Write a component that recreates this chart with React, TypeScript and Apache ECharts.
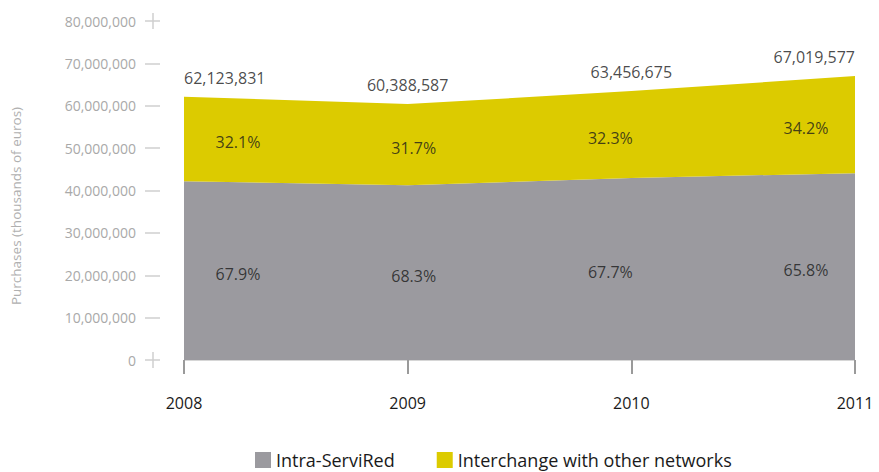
import React, { useEffect, useRef } from "react";
import * as echarts from "echarts";

// Purchases by network (thousands of euros)
const years = ["2008", "2009", "2010", "2011"];
const totals = [62123831, 60388587, 63456675, 67019577];
const intraPct = [67.9, 68.3, 67.7, 65.8];
const interPct = [32.1, 31.7, 32.3, 34.2];
const seriesNames = ["Intra-ServiRed", "Interchange with other networks"];

// label placement tweaks per year
const totalAlign = ["left", "center", "center", "right"];
const pctOffsetX = [54, 6, -21, -49];

const GRAY = "#9b9a9f";
const YELLOW = "#dccb00";
const FONT = "'Open Sans', sans-serif";

const fmt = (v: number) => v.toLocaleString("en-US");

export default function App() {
  const ref = useRef<HTMLDivElement>(null);

  useEffect(() => {
    document.body.style.margin = "0";
    if (!ref.current) return;
    const chart = echarts.init(ref.current, undefined, { renderer: "svg" });

    const intra = totals.map((t, i) => (t * intraPct[i]) / 100);
    const inter = totals.map((t, i) => t - intra[i]);
    const intraMid = intra.map((v) => v / 2);
    const interMid = intra.map((v, i) => v + inter[i] / 2);

    const pctSeries = (name: string, pcts: number[], mids: number[]) => ({
      name,
      type: "scatter",
      symbolSize: 0,
      silent: true,
      z: 10,
      data: years.map((_, i) => ({
        value: [i, mids[i]],
        label: {
          show: true,
          position: "top",
          distance: 0,
          offset: [pctOffsetX[i], 11],
          formatter: () => pcts[i].toFixed(1) + "%",
        },
      })),
      label: { color: "#1a1a1a", fontSize: 16, fontFamily: FONT },
    });

    chart.setOption({
      animation: false,
      textStyle: { fontFamily: FONT },
      grid: { left: 184, right: 24, top: 21, bottom: 112, containLabel: false },
      legend: {
        data: seriesNames,
        left: 255,
        top: 450,
        padding: 0,
        icon: "rect",
        itemWidth: 16,
        itemHeight: 16,
        itemGap: 42,
        textStyle: { fontSize: 18, lineHeight: 20, color: "#1a1a1a", fontFamily: FONT },
      },
      xAxis: [
        {
          type: "category",
          data: years,
          boundaryGap: false,
          offset: 13,
          axisLine: { show: false },
          axisTick: { show: true, length: 14, lineStyle: { color: "#9a9a9a", width: 2 } },
          axisLabel: { color: "#1a1a1a", fontSize: 16, margin: 22, fontFamily: FONT },
        },
        {
          type: "category",
          data: years,
          boundaryGap: false,
          position: "bottom",
          offset: 0,
          axisLine: { show: true, lineStyle: { color: "#d6d6d6", width: 1 } },
          axisTick: { show: false },
          axisLabel: { show: false },
        },
      ],
      yAxis: {
        type: "value",
        min: 0,
        max: 80000000,
        interval: 10000000,
        offset: 24,
        axisLine: { show: false },
        axisTick: { show: true, length: 15, lineStyle: { color: "#cfcfcf", width: 1.5 } },
        axisLabel: { color: "#a9a9a9", fontSize: 14, margin: 24, formatter: fmt, fontFamily: FONT },
        splitLine: { show: false },
      },
      series: [
        {
          name: seriesNames[0],
          type: "line",
          stack: "total",
          data: intra,
          symbol: "none",
          z: 1,
          lineStyle: { width: 0 },
          itemStyle: { color: GRAY },
          areaStyle: { color: GRAY, opacity: 1 },
        },
        {
          name: seriesNames[1],
          type: "line",
          stack: "total",
          data: inter,
          symbol: "none",
          z: 1,
          lineStyle: { width: 0 },
          itemStyle: { color: YELLOW },
          areaStyle: { color: YELLOW, opacity: 1 },
        },
        pctSeries("pctIntra", intraPct, intraMid),
        pctSeries("pctInter", interPct, interMid),
        {
          name: "totals",
          type: "scatter",
          symbolSize: 0,
          silent: true,
          z: 10,
          data: totals.map((t, i) => ({
            value: [i, t],
            label: {
              show: true,
              position: "top",
              distance: 11,
              align: totalAlign[i],
              formatter: fmt(t),
            },
          })),
          label: { color: "#1a1a1a", fontSize: 16, fontFamily: FONT },
        },
      ],
    });

    // axis title and the cross marks at both ends of the value axis
    const y0 = chart.convertToPixel({ yAxisIndex: 0 }, 0) as number;
    const yMax = chart.convertToPixel({ yAxisIndex: 0 }, 80000000) as number;
    const crossX = 153;
    chart.setOption({
      graphic: [
        {
          type: "text",
          x: 16,
          y: 206,
          rotation: Math.PI / 2,
          style: {
            text: "Purchases (thousands of euros)",
            fill: "#b0b0b0",
            fontSize: 13.5,
            fontFamily: FONT,
            align: "center",
            verticalAlign: "middle",
          },
        },
        {
          type: "line",
          shape: { x1: crossX, y1: y0 - 8, x2: crossX, y2: y0 + 8 },
          style: { stroke: "#cfcfcf", lineWidth: 1.5 },
        },
        {
          type: "line",
          shape: { x1: crossX, y1: yMax - 8, x2: crossX, y2: yMax + 8 },
          style: { stroke: "#cfcfcf", lineWidth: 1.5 },
        },
      ],
    });

    return () => chart.dispose();
  }, []);

  return <div ref={ref} style={{ width: 879, height: 472 }} />;
}
